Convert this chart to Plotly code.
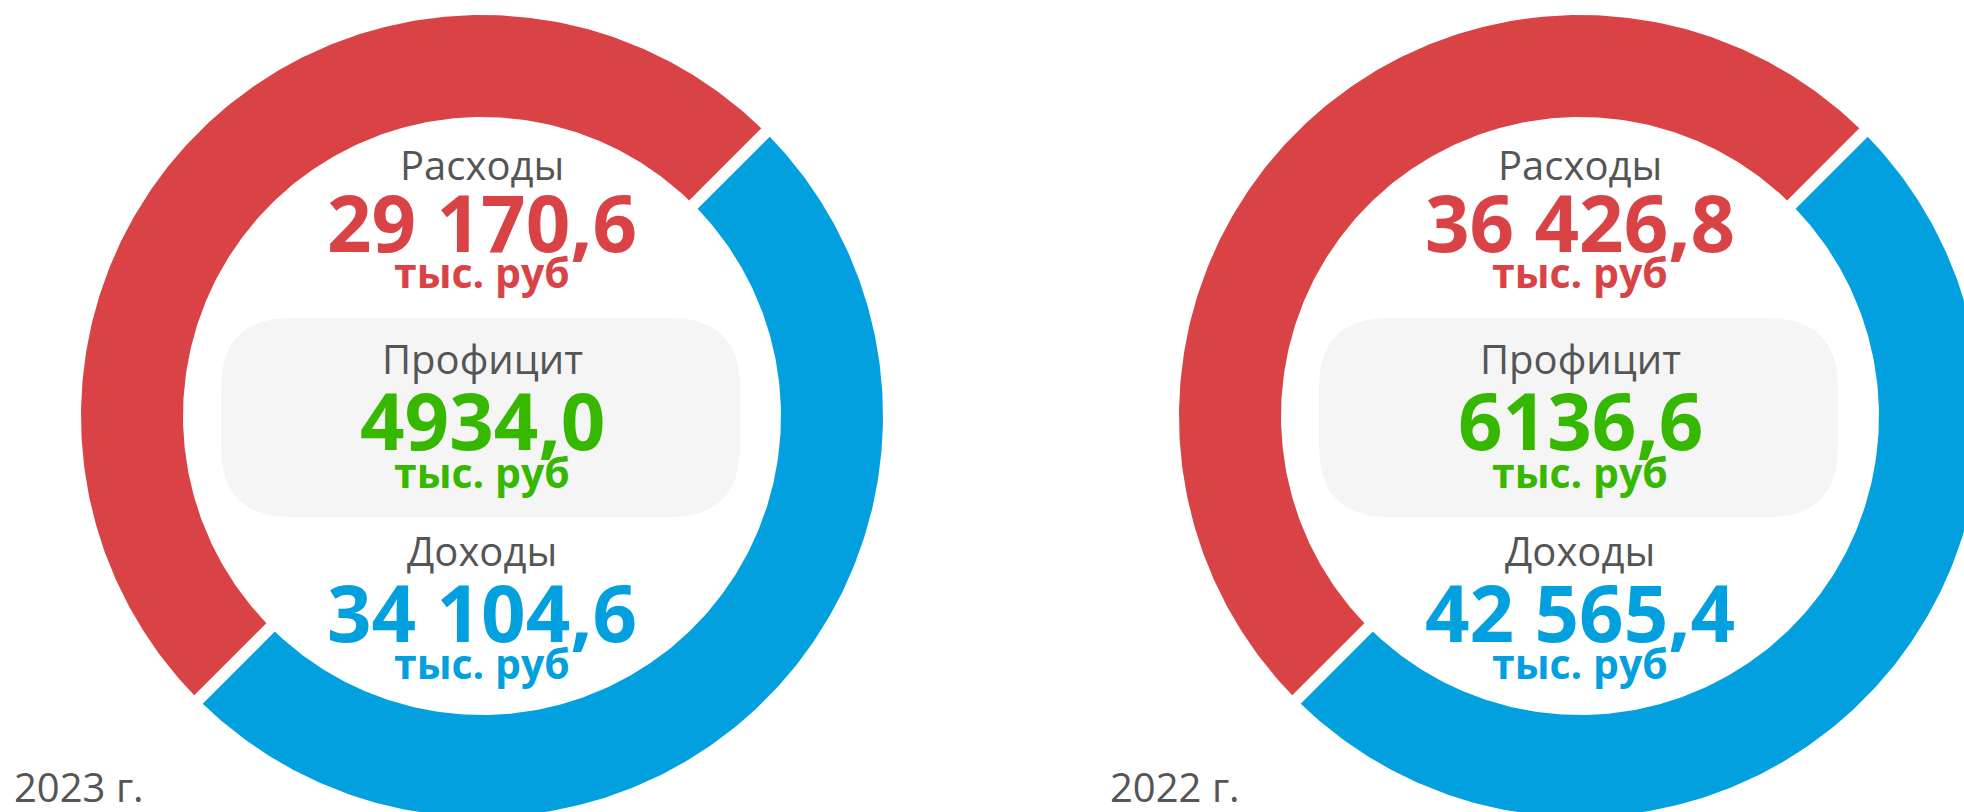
import numpy as np
import plotly.graph_objects as go

# ---- data ----
years = ["2023 г.", "2022 г."]
expenses = [29170.6, 36426.8]      # Расходы, тыс. руб
income = [34104.6, 42565.4]        # Доходы, тыс. руб
surplus = [4934.0, 6136.6]         # Профицит, тыс. руб
ring_shares = [[50, 50], [50, 50]]  # visual split of each ring: red / blue
ring_labels = ["Расходы", "Доходы"]

# ---- style / layout ----
W, H = 1964, 812
centers = [(482, 416), (1580, 416)]
R_OUT, R_IN = 401, 299
GAP = 12
START_ANGLE = 45.0
RED, BLUE, GREEN = "#d94346", "#03a0e0", "#37b800"
GRAY_TXT = "#555555"
BOX = "#f5f5f5"
FONT = "Open Sans"


def fmt(v):
    s = f"{v:.1f}"
    ip, dp = s.split(".")
    if abs(v) >= 10000:
        ip = f"{int(ip):,}".replace(",", " ")
    return ip + "," + dp


def sector(cx, cy, a1, a2):
    d = GAP / 2
    ao1 = np.radians(a1) + np.arcsin(d / R_OUT)
    ao2 = np.radians(a2) - np.arcsin(d / R_OUT)
    ai1 = np.radians(a1) + np.arcsin(d / R_IN)
    ai2 = np.radians(a2) - np.arcsin(d / R_IN)
    to = np.linspace(ao1, ao2, 300)
    ti = np.linspace(ai2, ai1, 300)
    xs = np.concatenate([cx + R_OUT * np.cos(to), cx + R_IN * np.cos(ti), [cx + R_OUT * np.cos(ao1)]])
    ys = np.concatenate([cy - R_OUT * np.sin(to), cy - R_IN * np.sin(ti), [cy - R_OUT * np.sin(ao1)]])
    return xs, ys


fig = go.Figure()
shapes = []
annotations = []

for i, (cx, cy) in enumerate(centers):
    shares = ring_shares[i]
    total = sum(shares)
    a = START_ANGLE
    for share, col, lab in zip(shares, [RED, BLUE], ring_labels):
        span = 360.0 * share / total
        xs, ys = sector(cx, cy, a, a + span)
        fig.add_trace(go.Scatter(x=xs, y=ys, fill="toself", fillcolor=col,
                                 mode="lines", line=dict(width=0, color=col),
                                 hoverinfo="skip", name=lab, showlegend=False))
        a += span

    # rounded grey box
    x0, x1, y0, y1, r = cx - 261, cx + 258, 318, 517, 70
    path = (f"M {x0+r},{y0} L {x1-r},{y0} Q {x1},{y0} {x1},{y0+r} "
            f"L {x1},{y1-r} Q {x1},{y1} {x1-r},{y1} L {x0+r},{y1} "
            f"Q {x0},{y1} {x0},{y1-r} L {x0},{y0+r} Q {x0},{y0} {x0+r},{y0} Z")
    shapes.append(dict(type="path", path=path, xref="x", yref="y",
                       fillcolor=BOX, line=dict(width=0), layer="below"))

    rows = [
        ("Расходы", -252, 40, GRAY_TXT, False),
        (fmt(expenses[i]), -194, 78, RED, True),
        ("тыс. руб", -144, 41, RED, True),
        ("Профицит", -58, 40, GRAY_TXT, False),
        (fmt(surplus[i]), 4, 78, GREEN, True),
        ("тыс. руб", 56, 41, GREEN, True),
        ("Доходы", 134, 40, GRAY_TXT, False),
        (fmt(income[i]), 196, 78, BLUE, True),
        ("тыс. руб", 247, 41, BLUE, True),
    ]
    for txt, dy, size, col, bold in rows:
        annotations.append(dict(
            x=cx, y=cy + dy, xref="x", yref="y", showarrow=False,
            text=f"<b>{txt}</b>" if bold else txt,
            font=dict(family=FONT, size=size, color=col),
            xanchor="center", yanchor="middle"))

year_x = [13, 1109]
for i, yr in enumerate(years):
    annotations.append(dict(
        x=year_x[i], y=786, xref="x", yref="y", showarrow=False, text=yr,
        font=dict(family=FONT, size=40, color=GRAY_TXT),
        xanchor="left", yanchor="middle", borderpad=0))

fig.update_layout(
    width=W, height=H, margin=dict(l=0, r=0, t=0, b=0),
    paper_bgcolor="white", plot_bgcolor="white",
    xaxis=dict(range=[0, W], visible=False, fixedrange=True),
    yaxis=dict(range=[H, 0], visible=False, fixedrange=True),
    shapes=shapes, annotations=annotations, showlegend=False,
)

fig.write_html(
    "out.html",
    config={"displayModeBar": False},
    post_script="document.body.style.margin='0';document.body.style.overflow='hidden';",
)
